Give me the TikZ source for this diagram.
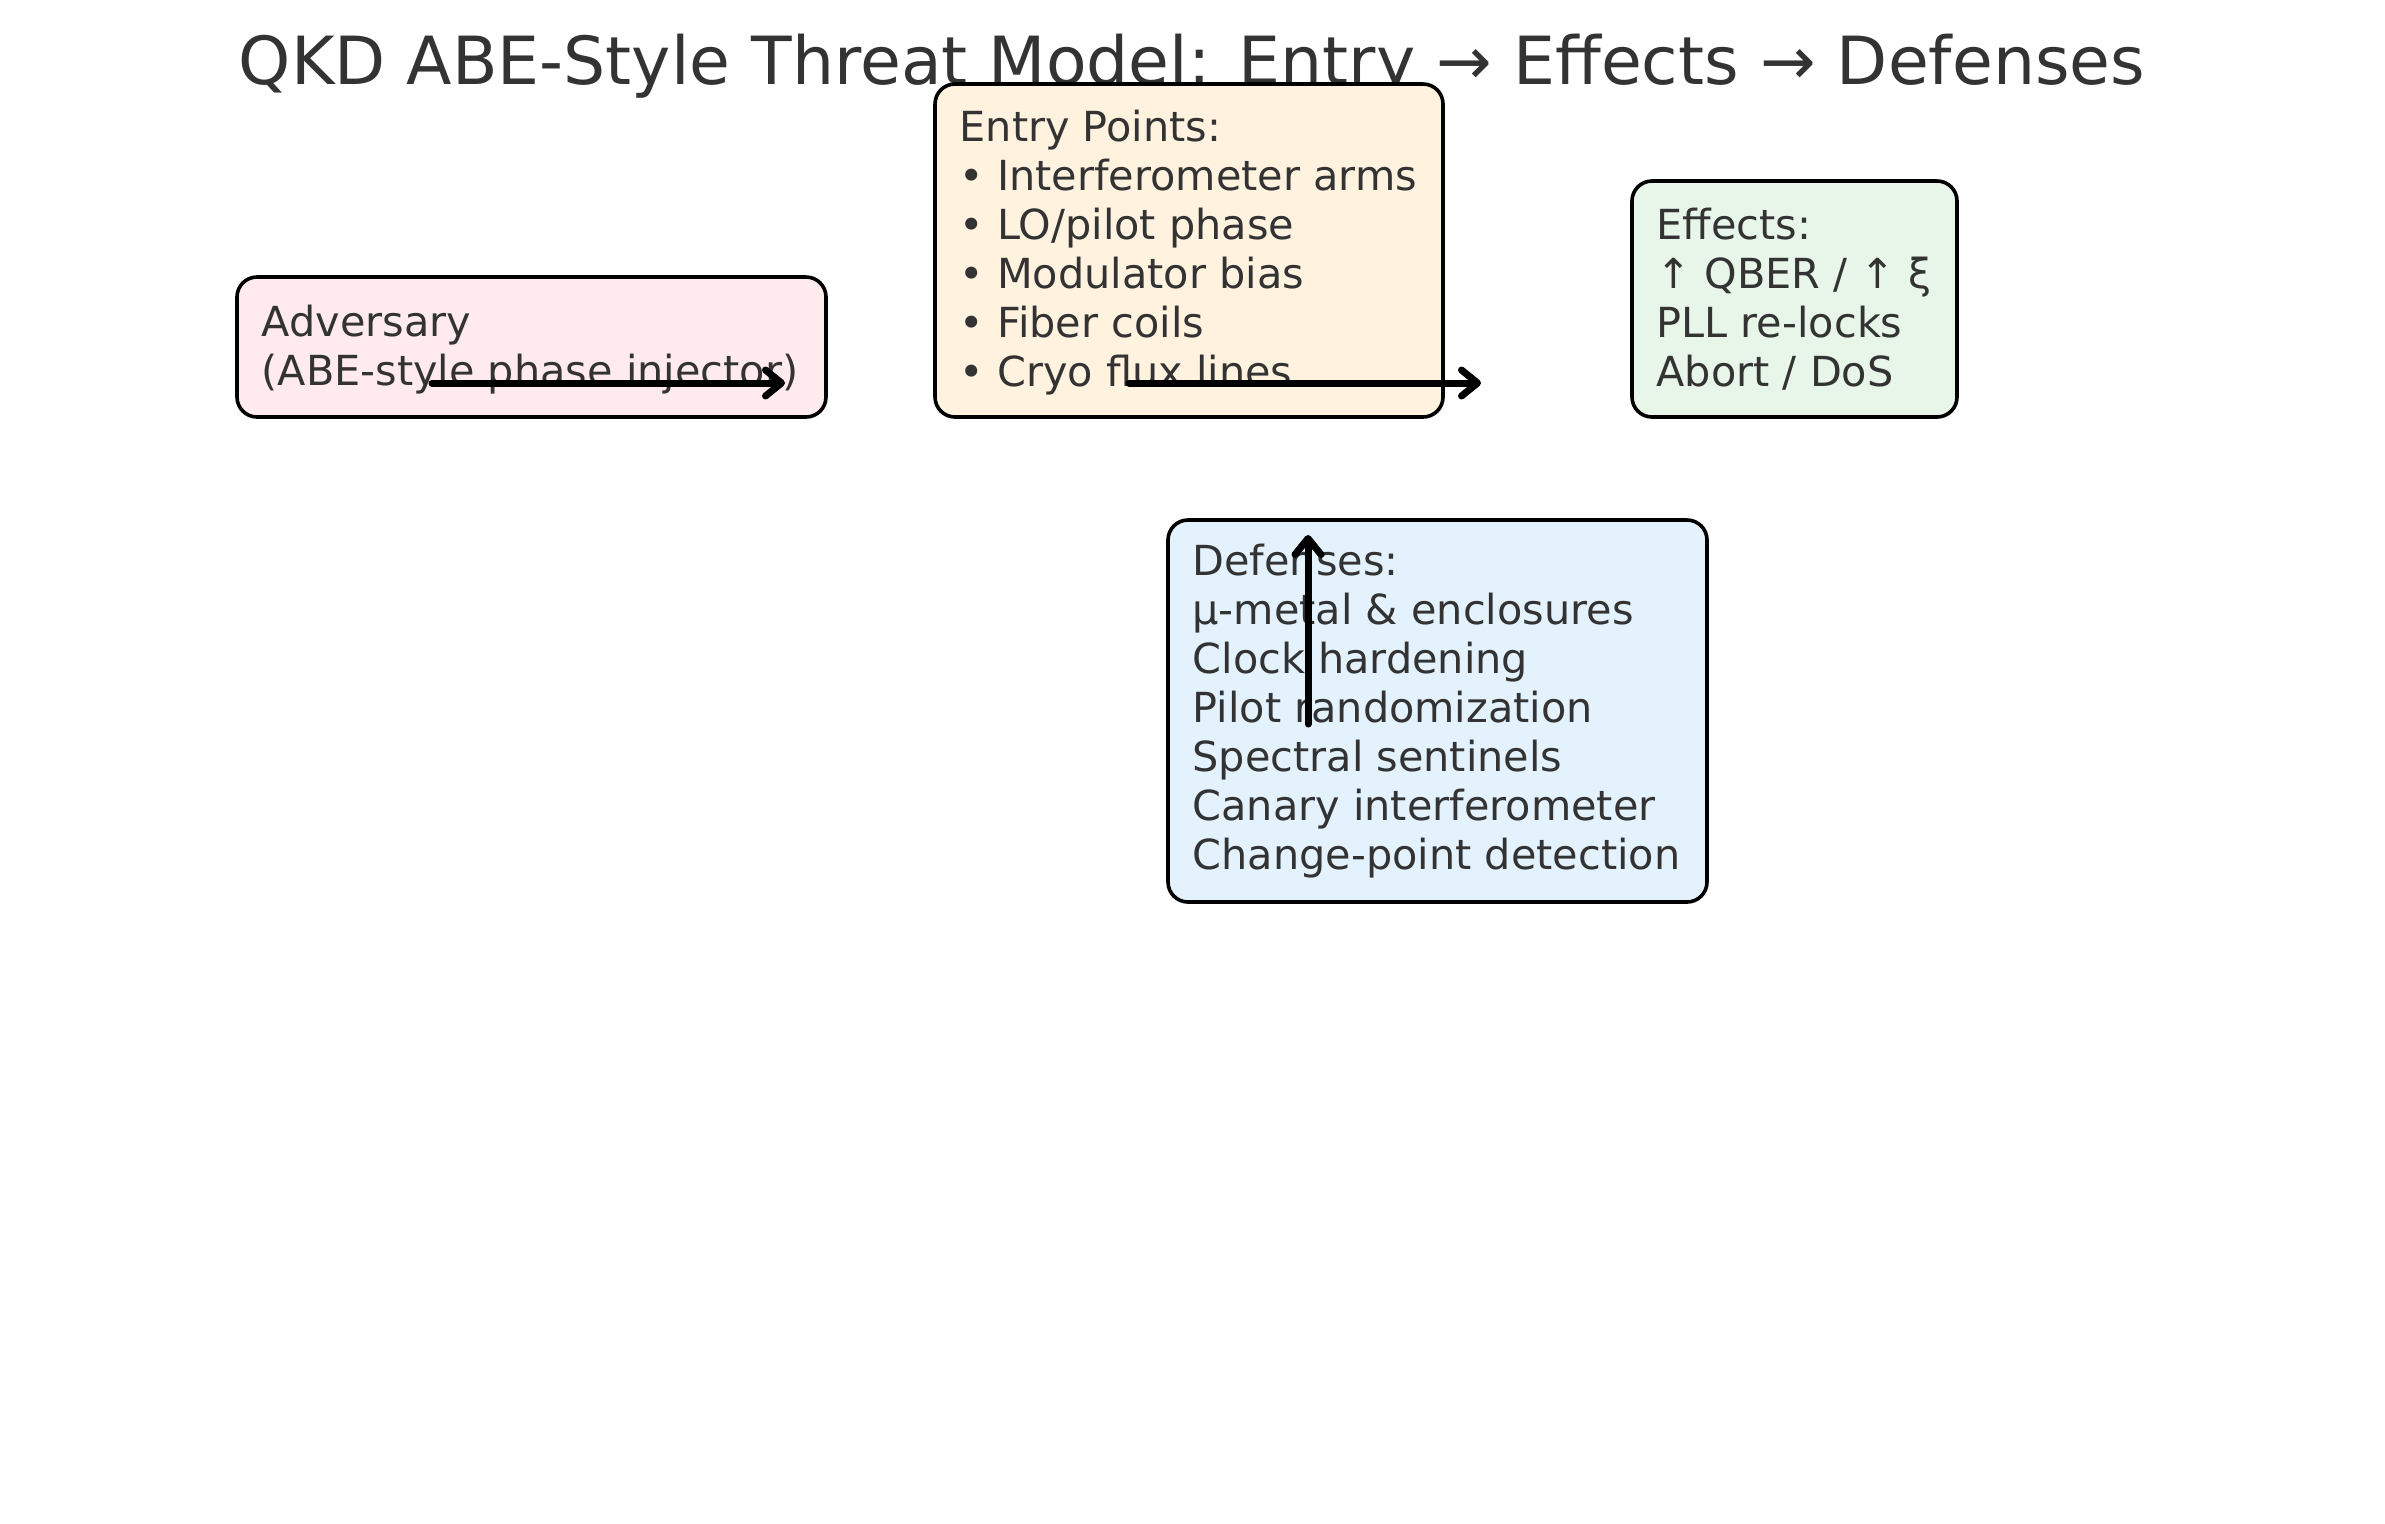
\documentclass[tikz,border=0pt]{standalone}
\usepackage{fontspec}
\setmainfont{DejaVu Sans}
\usetikzlibrary{arrows.meta}
\definecolor{txt}{HTML}{333333}
\definecolor{advfill}{HTML}{FFEBEE}
\definecolor{entfill}{HTML}{FFF3E0}
\definecolor{efffill}{HTML}{E8F5E9}
\definecolor{deffill}{HTML}{E3F2FD}
\begin{document}
\begin{tikzpicture}[x=0.5pt,y=-0.5pt,
  box/.style={draw=black, line width=1.8pt, rounded corners=10pt, inner sep=0pt, anchor=center},
  lbl/.style={text=txt, align=left, anchor=west, inner sep=0pt, font=\fontsize{20.7}{24.5}\selectfont},
  flow/.style={-{Straight Barb[length=8pt,width=13pt,round]}, line width=3.5pt, line cap=round, draw=black}]
\useasboundingbox (0,0) rectangle (2385,1523);
\node[text=txt, font=\fontsize{33.2}{40}\selectfont, inner sep=0pt] (title) at (1192,66) {QKD ABE-Style Threat Model: Entry → Effects → Defenses};

\node[box, fill=advfill, minimum width=294.5pt, minimum height=70pt] (adv) at (531.5,347) {};
\node[lbl] (advt) at ([xshift=13pt,yshift=-1.5pt]adv.west) {Adversary\\(ABE-style phase injector)};

\node[box, fill=entfill, minimum width=254pt, minimum height=166.5pt] (ent) at (1189,250.5) {};
\node[lbl] (entt) at ([xshift=13pt,yshift=-0.8pt]ent.west) {Entry Points:\\• Interferometer arms\\• LO/pilot phase\\• Modulator bias\\• Fiber coils\\• Cryo flux lines};

\node[box, fill=efffill, minimum width=162.5pt, minimum height=118pt] (eff) at (1794.5,299) {};
\node[lbl] (efft) at ([xshift=13pt]eff.west) {Effects:\\↑ QBER / ↑ ξ\\PLL re-locks\\Abort / DoS};

\node[box, fill=deffill, minimum width=269.5pt, minimum height=191pt] (def) at (1437.5,711) {};
\node[lbl] (deft) at ([xshift=13pt]def.west) {Defenses:\\µ-metal \& enclosures\\Clock hardening\\Pilot randomization\\Spectral sentinels\\Canary interferometer\\Change-point detection};

\coordinate (a1s) at (432,383);
\coordinate (a1e) at (785,383);
\coordinate (a2s) at (1129,383);
\coordinate (a2e) at (1481,383);
\coordinate (a3s) at (1308,724);
\coordinate (a3e) at (1308,535);
\draw[flow] (a1s) -- (a1e);
\draw[flow] (a2s) -- (a2e);
\draw[flow] (a3s) -- (a3e);
\end{tikzpicture}
\end{document}
